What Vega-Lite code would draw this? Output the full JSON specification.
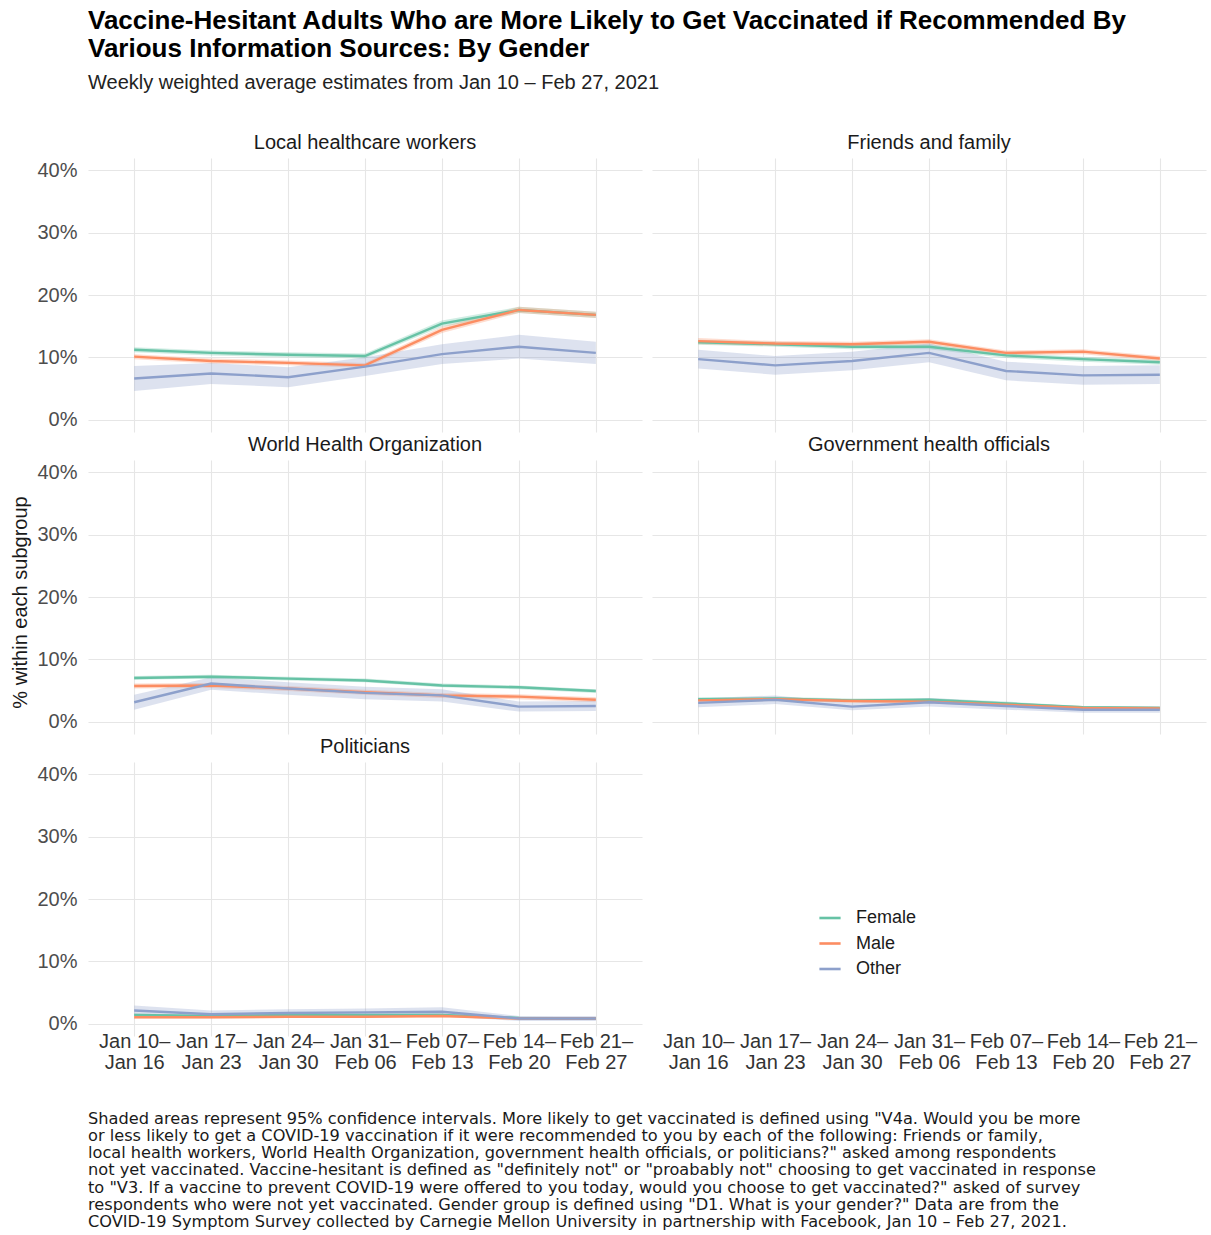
{
  "$schema": "https://vega.github.io/schema/vega-lite/v6.json",
  "background": "white",
  "padding": {"left": 10, "right": 5, "top": 8, "bottom": 5},
  "config": {
    "font": "Liberation Sans",
    "view": {"stroke": null},
    "axis": {"domain": false, "ticks": false, "gridColor": "#e6e6e6", "gridWidth": 1.1, "labelColor": "#4d4d4d", "labelFontSize": 20, "titleFontSize": 20, "titleFontWeight": "normal", "titleColor": "#1a1a1a"}
  },
  "title": {
    "text": ["Vaccine-Hesitant Adults Who are More Likely to Get Vaccinated if Recommended By", "Various Information Sources: By Gender"],
    "subtitle": "Weekly weighted average estimates from Jan 10 – Feb 27, 2021",
    "anchor": "start", "frame": "group", "fontSize": 26, "fontWeight": "bold", "lineHeight": 28, "color": "#000000",
    "subtitleFontSize": 20, "subtitleColor": "#222222", "subtitlePadding": 11, "offset": 40
  },
  "vconcat": [
    {
      "data": {"values": [
        {"source":"Local healthcare workers","week":"Jan 10–Jan 16","gender":"Female","pct":11.2,"lo":10.8,"hi":11.6},
        {"source":"Local healthcare workers","week":"Jan 17–Jan 23","gender":"Female","pct":10.7,"lo":10.3,"hi":11.1},
        {"source":"Local healthcare workers","week":"Jan 24–Jan 30","gender":"Female","pct":10.4,"lo":10.0,"hi":10.8},
        {"source":"Local healthcare workers","week":"Jan 31–Feb 06","gender":"Female","pct":10.2,"lo":9.8,"hi":10.6},
        {"source":"Local healthcare workers","week":"Feb 07–Feb 13","gender":"Female","pct":15.4,"lo":14.9,"hi":15.9},
        {"source":"Local healthcare workers","week":"Feb 14–Feb 20","gender":"Female","pct":17.6,"lo":17.1,"hi":18.1},
        {"source":"Local healthcare workers","week":"Feb 21–Feb 27","gender":"Female","pct":16.8,"lo":16.3,"hi":17.3},
        {"source":"Local healthcare workers","week":"Jan 10–Jan 16","gender":"Male","pct":10.1,"lo":9.7,"hi":10.5},
        {"source":"Local healthcare workers","week":"Jan 17–Jan 23","gender":"Male","pct":9.4,"lo":9.0,"hi":9.8},
        {"source":"Local healthcare workers","week":"Jan 24–Jan 30","gender":"Male","pct":9.1,"lo":8.7,"hi":9.5},
        {"source":"Local healthcare workers","week":"Jan 31–Feb 06","gender":"Male","pct":8.7,"lo":8.3,"hi":9.1},
        {"source":"Local healthcare workers","week":"Feb 07–Feb 13","gender":"Male","pct":14.4,"lo":13.9,"hi":14.9},
        {"source":"Local healthcare workers","week":"Feb 14–Feb 20","gender":"Male","pct":17.6,"lo":17.1,"hi":18.1},
        {"source":"Local healthcare workers","week":"Feb 21–Feb 27","gender":"Male","pct":16.8,"lo":16.3,"hi":17.3},
        {"source":"Local healthcare workers","week":"Jan 10–Jan 16","gender":"Other","pct":6.6,"lo":4.6,"hi":8.6},
        {"source":"Local healthcare workers","week":"Jan 17–Jan 23","gender":"Other","pct":7.4,"lo":5.7,"hi":9.1},
        {"source":"Local healthcare workers","week":"Jan 24–Jan 30","gender":"Other","pct":6.8,"lo":5.2,"hi":8.4},
        {"source":"Local healthcare workers","week":"Jan 31–Feb 06","gender":"Other","pct":8.5,"lo":7.0,"hi":10.0},
        {"source":"Local healthcare workers","week":"Feb 07–Feb 13","gender":"Other","pct":10.5,"lo":8.9,"hi":12.1},
        {"source":"Local healthcare workers","week":"Feb 14–Feb 20","gender":"Other","pct":11.7,"lo":9.8,"hi":13.6},
        {"source":"Local healthcare workers","week":"Feb 21–Feb 27","gender":"Other","pct":10.7,"lo":8.9,"hi":12.5},
        {"source":"Friends and family","week":"Jan 10–Jan 16","gender":"Female","pct":12.4,"lo":12.0,"hi":12.8},
        {"source":"Friends and family","week":"Jan 17–Jan 23","gender":"Female","pct":12.1,"lo":11.7,"hi":12.5},
        {"source":"Friends and family","week":"Jan 24–Jan 30","gender":"Female","pct":11.7,"lo":11.3,"hi":12.1},
        {"source":"Friends and family","week":"Jan 31–Feb 06","gender":"Female","pct":11.7,"lo":11.3,"hi":12.1},
        {"source":"Friends and family","week":"Feb 07–Feb 13","gender":"Female","pct":10.3,"lo":9.9,"hi":10.7},
        {"source":"Friends and family","week":"Feb 14–Feb 20","gender":"Female","pct":9.7,"lo":9.3,"hi":10.1},
        {"source":"Friends and family","week":"Feb 21–Feb 27","gender":"Female","pct":9.2,"lo":8.8,"hi":9.6},
        {"source":"Friends and family","week":"Jan 10–Jan 16","gender":"Male","pct":12.6,"lo":12.1,"hi":13.1},
        {"source":"Friends and family","week":"Jan 17–Jan 23","gender":"Male","pct":12.2,"lo":11.8,"hi":12.6},
        {"source":"Friends and family","week":"Jan 24–Jan 30","gender":"Male","pct":12.1,"lo":11.7,"hi":12.5},
        {"source":"Friends and family","week":"Jan 31–Feb 06","gender":"Male","pct":12.5,"lo":12.1,"hi":12.9},
        {"source":"Friends and family","week":"Feb 07–Feb 13","gender":"Male","pct":10.7,"lo":10.3,"hi":11.1},
        {"source":"Friends and family","week":"Feb 14–Feb 20","gender":"Male","pct":10.9,"lo":10.5,"hi":11.3},
        {"source":"Friends and family","week":"Feb 21–Feb 27","gender":"Male","pct":9.8,"lo":9.4,"hi":10.2},
        {"source":"Friends and family","week":"Jan 10–Jan 16","gender":"Other","pct":9.7,"lo":8.2,"hi":11.2},
        {"source":"Friends and family","week":"Jan 17–Jan 23","gender":"Other","pct":8.7,"lo":7.2,"hi":10.2},
        {"source":"Friends and family","week":"Jan 24–Jan 30","gender":"Other","pct":9.4,"lo":7.9,"hi":10.9},
        {"source":"Friends and family","week":"Jan 31–Feb 06","gender":"Other","pct":10.7,"lo":9.2,"hi":12.2},
        {"source":"Friends and family","week":"Feb 07–Feb 13","gender":"Other","pct":7.8,"lo":6.3,"hi":9.3},
        {"source":"Friends and family","week":"Feb 14–Feb 20","gender":"Other","pct":7.1,"lo":5.6,"hi":8.6},
        {"source":"Friends and family","week":"Feb 21–Feb 27","gender":"Other","pct":7.2,"lo":5.7,"hi":8.7},
        {"source":"World Health Organization","week":"Jan 10–Jan 16","gender":"Female","pct":7.0,"lo":6.7,"hi":7.3},
        {"source":"World Health Organization","week":"Jan 17–Jan 23","gender":"Female","pct":7.2,"lo":6.9,"hi":7.5},
        {"source":"World Health Organization","week":"Jan 24–Jan 30","gender":"Female","pct":6.9,"lo":6.6,"hi":7.2},
        {"source":"World Health Organization","week":"Jan 31–Feb 06","gender":"Female","pct":6.6,"lo":6.3,"hi":6.9},
        {"source":"World Health Organization","week":"Feb 07–Feb 13","gender":"Female","pct":5.8,"lo":5.5,"hi":6.1},
        {"source":"World Health Organization","week":"Feb 14–Feb 20","gender":"Female","pct":5.5,"lo":5.2,"hi":5.8},
        {"source":"World Health Organization","week":"Feb 21–Feb 27","gender":"Female","pct":4.9,"lo":4.6,"hi":5.2},
        {"source":"World Health Organization","week":"Jan 10–Jan 16","gender":"Male","pct":5.7,"lo":5.3,"hi":6.1},
        {"source":"World Health Organization","week":"Jan 17–Jan 23","gender":"Male","pct":5.8,"lo":5.4,"hi":6.2},
        {"source":"World Health Organization","week":"Jan 24–Jan 30","gender":"Male","pct":5.3,"lo":4.9,"hi":5.7},
        {"source":"World Health Organization","week":"Jan 31–Feb 06","gender":"Male","pct":4.7,"lo":4.3,"hi":5.1},
        {"source":"World Health Organization","week":"Feb 07–Feb 13","gender":"Male","pct":4.2,"lo":3.8,"hi":4.6},
        {"source":"World Health Organization","week":"Feb 14–Feb 20","gender":"Male","pct":4.0,"lo":3.6,"hi":4.4},
        {"source":"World Health Organization","week":"Feb 21–Feb 27","gender":"Male","pct":3.5,"lo":3.1,"hi":3.9},
        {"source":"World Health Organization","week":"Jan 10–Jan 16","gender":"Other","pct":3.1,"lo":1.9,"hi":4.3},
        {"source":"World Health Organization","week":"Jan 17–Jan 23","gender":"Other","pct":6.1,"lo":5.1,"hi":7.1},
        {"source":"World Health Organization","week":"Jan 24–Jan 30","gender":"Other","pct":5.3,"lo":4.3,"hi":6.3},
        {"source":"World Health Organization","week":"Jan 31–Feb 06","gender":"Other","pct":4.6,"lo":3.6,"hi":5.6},
        {"source":"World Health Organization","week":"Feb 07–Feb 13","gender":"Other","pct":4.2,"lo":3.2,"hi":5.2},
        {"source":"World Health Organization","week":"Feb 14–Feb 20","gender":"Other","pct":2.4,"lo":1.6,"hi":3.2},
        {"source":"World Health Organization","week":"Feb 21–Feb 27","gender":"Other","pct":2.5,"lo":1.7,"hi":3.3},
        {"source":"Government health officials","week":"Jan 10–Jan 16","gender":"Female","pct":3.6,"lo":3.3,"hi":3.9},
        {"source":"Government health officials","week":"Jan 17–Jan 23","gender":"Female","pct":3.7,"lo":3.4,"hi":4.0},
        {"source":"Government health officials","week":"Jan 24–Jan 30","gender":"Female","pct":3.4,"lo":3.1,"hi":3.7},
        {"source":"Government health officials","week":"Jan 31–Feb 06","gender":"Female","pct":3.5,"lo":3.2,"hi":3.8},
        {"source":"Government health officials","week":"Feb 07–Feb 13","gender":"Female","pct":2.9,"lo":2.6,"hi":3.2},
        {"source":"Government health officials","week":"Feb 14–Feb 20","gender":"Female","pct":2.3,"lo":2.1,"hi":2.5},
        {"source":"Government health officials","week":"Feb 21–Feb 27","gender":"Female","pct":2.2,"lo":2.0,"hi":2.4},
        {"source":"Government health officials","week":"Jan 10–Jan 16","gender":"Male","pct":3.4,"lo":3.1,"hi":3.7},
        {"source":"Government health officials","week":"Jan 17–Jan 23","gender":"Male","pct":3.6,"lo":3.3,"hi":3.9},
        {"source":"Government health officials","week":"Jan 24–Jan 30","gender":"Male","pct":3.3,"lo":3.0,"hi":3.6},
        {"source":"Government health officials","week":"Jan 31–Feb 06","gender":"Male","pct":3.2,"lo":2.9,"hi":3.5},
        {"source":"Government health officials","week":"Feb 07–Feb 13","gender":"Male","pct":2.7,"lo":2.4,"hi":3.0},
        {"source":"Government health officials","week":"Feb 14–Feb 20","gender":"Male","pct":2.2,"lo":1.9,"hi":2.5},
        {"source":"Government health officials","week":"Feb 21–Feb 27","gender":"Male","pct":2.1,"lo":1.8,"hi":2.4},
        {"source":"Government health officials","week":"Jan 10–Jan 16","gender":"Other","pct":3.0,"lo":2.3,"hi":3.7},
        {"source":"Government health officials","week":"Jan 17–Jan 23","gender":"Other","pct":3.5,"lo":2.8,"hi":4.2},
        {"source":"Government health officials","week":"Jan 24–Jan 30","gender":"Other","pct":2.4,"lo":1.8,"hi":3.0},
        {"source":"Government health officials","week":"Jan 31–Feb 06","gender":"Other","pct":3.1,"lo":2.4,"hi":3.8},
        {"source":"Government health officials","week":"Feb 07–Feb 13","gender":"Other","pct":2.5,"lo":1.9,"hi":3.1},
        {"source":"Government health officials","week":"Feb 14–Feb 20","gender":"Other","pct":1.9,"lo":1.4,"hi":2.4},
        {"source":"Government health officials","week":"Feb 21–Feb 27","gender":"Other","pct":1.9,"lo":1.4,"hi":2.4},
        {"source":"Politicians","week":"Jan 10–Jan 16","gender":"Female","pct":1.4,"lo":1.2,"hi":1.6},
        {"source":"Politicians","week":"Jan 17–Jan 23","gender":"Female","pct":1.2,"lo":1.0,"hi":1.4},
        {"source":"Politicians","week":"Jan 24–Jan 30","gender":"Female","pct":1.4,"lo":1.2,"hi":1.6},
        {"source":"Politicians","week":"Jan 31–Feb 06","gender":"Female","pct":1.4,"lo":1.2,"hi":1.6},
        {"source":"Politicians","week":"Feb 07–Feb 13","gender":"Female","pct":1.4,"lo":1.2,"hi":1.6},
        {"source":"Politicians","week":"Feb 14–Feb 20","gender":"Female","pct":0.9,"lo":0.7,"hi":1.1},
        {"source":"Politicians","week":"Feb 21–Feb 27","gender":"Female","pct":0.8,"lo":0.6,"hi":1.0},
        {"source":"Politicians","week":"Jan 10–Jan 16","gender":"Male","pct":1.0,"lo":0.8,"hi":1.2},
        {"source":"Politicians","week":"Jan 17–Jan 23","gender":"Male","pct":1.0,"lo":0.8,"hi":1.2},
        {"source":"Politicians","week":"Jan 24–Jan 30","gender":"Male","pct":1.1,"lo":0.9,"hi":1.3},
        {"source":"Politicians","week":"Jan 31–Feb 06","gender":"Male","pct":1.1,"lo":0.9,"hi":1.3},
        {"source":"Politicians","week":"Feb 07–Feb 13","gender":"Male","pct":1.2,"lo":1.0,"hi":1.4},
        {"source":"Politicians","week":"Feb 14–Feb 20","gender":"Male","pct":0.8,"lo":0.6,"hi":1.0},
        {"source":"Politicians","week":"Feb 21–Feb 27","gender":"Male","pct":0.8,"lo":0.6,"hi":1.0},
        {"source":"Politicians","week":"Jan 10–Jan 16","gender":"Other","pct":2.1,"lo":1.3,"hi":2.9},
        {"source":"Politicians","week":"Jan 17–Jan 23","gender":"Other","pct":1.5,"lo":0.9,"hi":2.1},
        {"source":"Politicians","week":"Jan 24–Jan 30","gender":"Other","pct":1.7,"lo":1.1,"hi":2.3},
        {"source":"Politicians","week":"Jan 31–Feb 06","gender":"Other","pct":1.8,"lo":1.2,"hi":2.4},
        {"source":"Politicians","week":"Feb 07–Feb 13","gender":"Other","pct":1.9,"lo":1.2,"hi":2.6},
        {"source":"Politicians","week":"Feb 14–Feb 20","gender":"Other","pct":0.8,"lo":0.4,"hi":1.2},
        {"source":"Politicians","week":"Feb 21–Feb 27","gender":"Other","pct":0.8,"lo":0.4,"hi":1.2}
      ]},
      "title": {"text": "% within each subgroup", "orient": "left", "anchor": "middle", "fontSize": 20, "fontWeight": "normal", "color": "#1a1a1a", "offset": 6},
      "facet": {
        "field": "source", "type": "nominal",
        "sort": ["Local healthcare workers", "Friends and family", "World Health Organization", "Government health officials", "Politicians"],
        "header": {"title": null, "labelFontSize": 20, "labelColor": "#1a1a1a", "labelPadding": 5}
      },
      "columns": 2,
      "spacing": {"row": 3, "column": 10},
      "spec": {
        "width": 554,
        "height": 274,
        "encoding": {
          "x": {
            "field": "week", "type": "ordinal",
            "sort": ["Jan 10–Jan 16","Jan 17–Jan 23","Jan 24–Jan 30","Jan 31–Feb 06","Feb 07–Feb 13","Feb 14–Feb 20","Feb 21–Feb 27"],
            "scale": {"type": "point", "padding": 0.6},
            "axis": {"title": null, "grid": true, "labelAngle": 0, "labelPadding": -5, "labelColor": "#333333", "labelLineHeight": 21, "labelExpr": "[slice(datum.label, 0, 7), slice(datum.label, 7)]"}
          },
          "color": {"field": "gender", "type": "nominal", "scale": {"domain": ["Female", "Male", "Other"], "range": ["#66c2a5", "#fc8d62", "#8da0cb"]},
            "legend": {"title": null, "orient": "none", "legendX": 730, "legendY": 748, "symbolType": "stroke", "symbolStrokeWidth": 2.6, "symbolOpacity": 1, "symbolSize": 450, "labelFontSize": 18, "labelColor": "#1a1a1a", "rowPadding": 4.5, "labelOffset": 14}}
        },
        "layer": [
          {
            "mark": {"type": "area", "opacity": 0.3},
            "encoding": {
              "y": {"field": "lo", "type": "quantitative", "stack": null, "scale": {"domain": [-2, 42], "nice": false, "zero": false}},
              "y2": {"field": "hi"}
            }
          },
          {
            "mark": {"type": "line", "strokeWidth": 2.4},
            "encoding": {
              "y": {"field": "pct", "type": "quantitative", "scale": {"domain": [-2, 42], "nice": false, "zero": false},
                "axis": {"title": null, "values": [0, 10, 20, 30, 40], "labelExpr": "datum.value + '%'", "labelPadding": 11}}
            }
          }
        ]
      }
    },
    {
      "width": 1000,
      "height": 1,
      "data": {"values": [{}]},
      "mark": {"type": "text", "text": ""},
      "title": {
        "text": [
          "Shaded areas represent 95% confidence intervals. More likely to get vaccinated is defined using \"V4a. Would you be more",
          "or less likely to get a COVID-19 vaccination if it were recommended to you by each of the following: Friends or family,",
          "local health workers, World Health Organization, government health officials, or politicians?\" asked among respondents",
          "not yet vaccinated. Vaccine-hesitant is defined as \"definitely not\" or \"proabably not\" choosing to get vaccinated in response",
          "to \"V3. If a vaccine to prevent COVID-19 were offered to you today, would you choose to get vaccinated?\" asked of survey",
          "respondents who were not yet vaccinated. Gender group is defined using \"D1. What is your gender?\" Data are from the",
          "COVID-19 Symptom Survey collected by Carnegie Mellon University in partnership with Facebook, Jan 10 – Feb 27, 2021."
        ],
        "anchor": "start", "font": "DejaVu Sans", "fontSize": 16.2, "fontWeight": "normal", "lineHeight": 17.3, "color": "#1a1a1a", "offset": 0
      }
    }
  ],
  "spacing": 38
}
